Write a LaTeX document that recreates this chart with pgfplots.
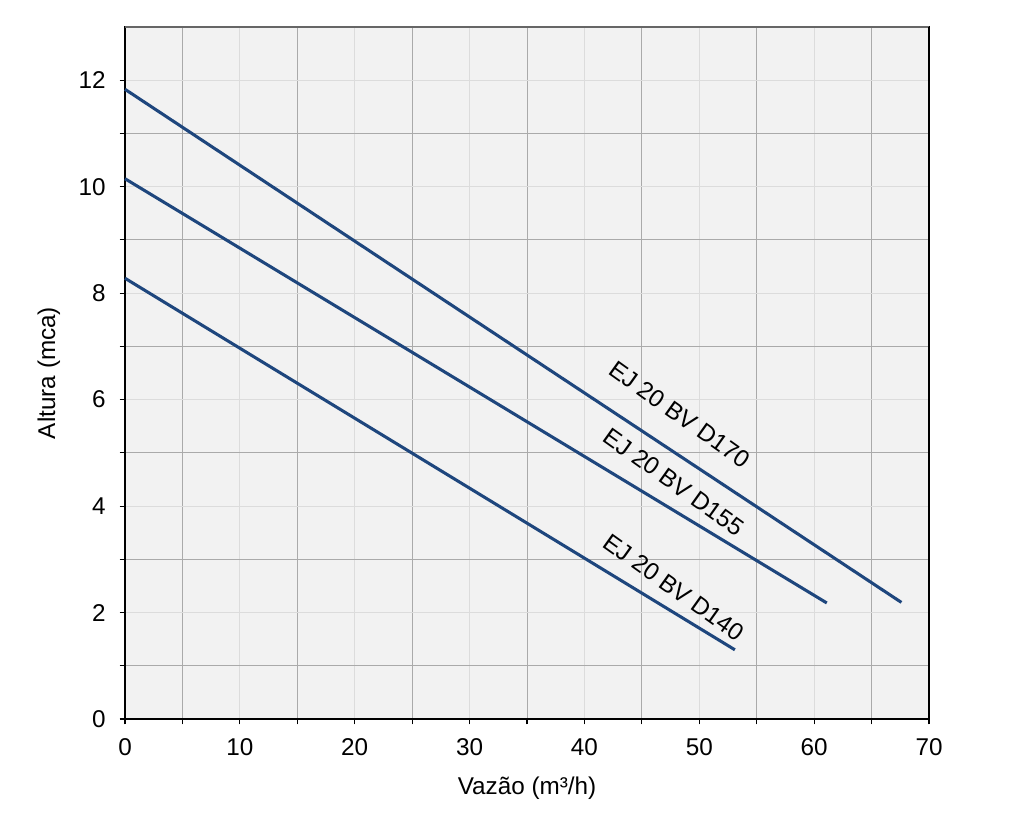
\documentclass[border=0pt]{standalone}
\usepackage{pgfplots}
\pgfplotsset{compat=1.18}
\usepackage{fontspec}
\setmainfont{Liberation Sans}
\definecolor{bg}{HTML}{F2F2F2}
\definecolor{ln}{RGB}{30,70,125}
\definecolor{gmaj}{HTML}{DCDCDC}
\definecolor{gmin}{HTML}{AAAAAA}
\newcommand{\fs}{\fontsize{18.2}{21}\selectfont}
\begin{document}
\begin{tikzpicture}
\begin{axis}[
  scale only axis, width=603pt, height=519pt,
  xmin=0, xmax=70, ymin=0, ymax=13,
  xtick={0,10,20,30,40,50,60,70}, ytick={0,2,4,6,8,10,12},
  minor xtick={5,15,25,35,45,55,65}, minor ytick={1,3,5,7,9,11},
  grid=both,
  major grid style={gmaj, line width=0.75pt},
  minor grid style={gmin, line width=0.75pt},
  axis background/.style={fill=bg},
  axis line style={black, line width=1.4pt},
  tick style={black, line width=0.8pt},
  tick align=outside, major tick length=4pt, minor tick length=4pt,
  xtick pos=bottom, ytick pos=left,
  font=\fs,
  ticklabel style={font=\fs},
  xticklabel style={yshift=-7pt},
  yticklabel style={xshift=-7pt},
  /pgf/number format/assume math mode=true,
  xlabel={Vazão (m³/h)}, ylabel={Altura (mca)},
  xlabel style={font=\fs, yshift=-9pt},
  ylabel style={font=\fs, yshift=7pt},
  clip=false,
]
\addplot[ln, line width=2.3pt] coordinates {(0,11.83) (67.6,2.19)};
\addplot[ln, line width=2.3pt] coordinates {(0,10.15) (61.1,2.18)};
\addplot[ln, line width=2.3pt] coordinates {(0,8.28) (53.1,1.30)};
\node[rotate=-35.5, font=\fs] at (axis cs:48.3,5.72) {EJ 20 BV D170};
\node[rotate=-35.5, font=\fs] at (axis cs:47.8,4.45) {EJ 20 BV D155};
\node[rotate=-35.5, font=\fs] at (axis cs:47.8,2.47) {EJ 20 BV D140};
\draw[gray!80!black, line width=1.4pt] (rel axis cs:0,1) -- (rel axis cs:1,1);
\draw[black, line width=1.4pt] (rel axis cs:1,0) -- (rel axis cs:1,1);
\end{axis}
\useasboundingbox ([xshift=-93.75pt,yshift=-82.5pt]current axis.south west) rectangle ([xshift=63.75pt, yshift=20.25pt]current axis.north east);
\end{tikzpicture}
\end{document}
